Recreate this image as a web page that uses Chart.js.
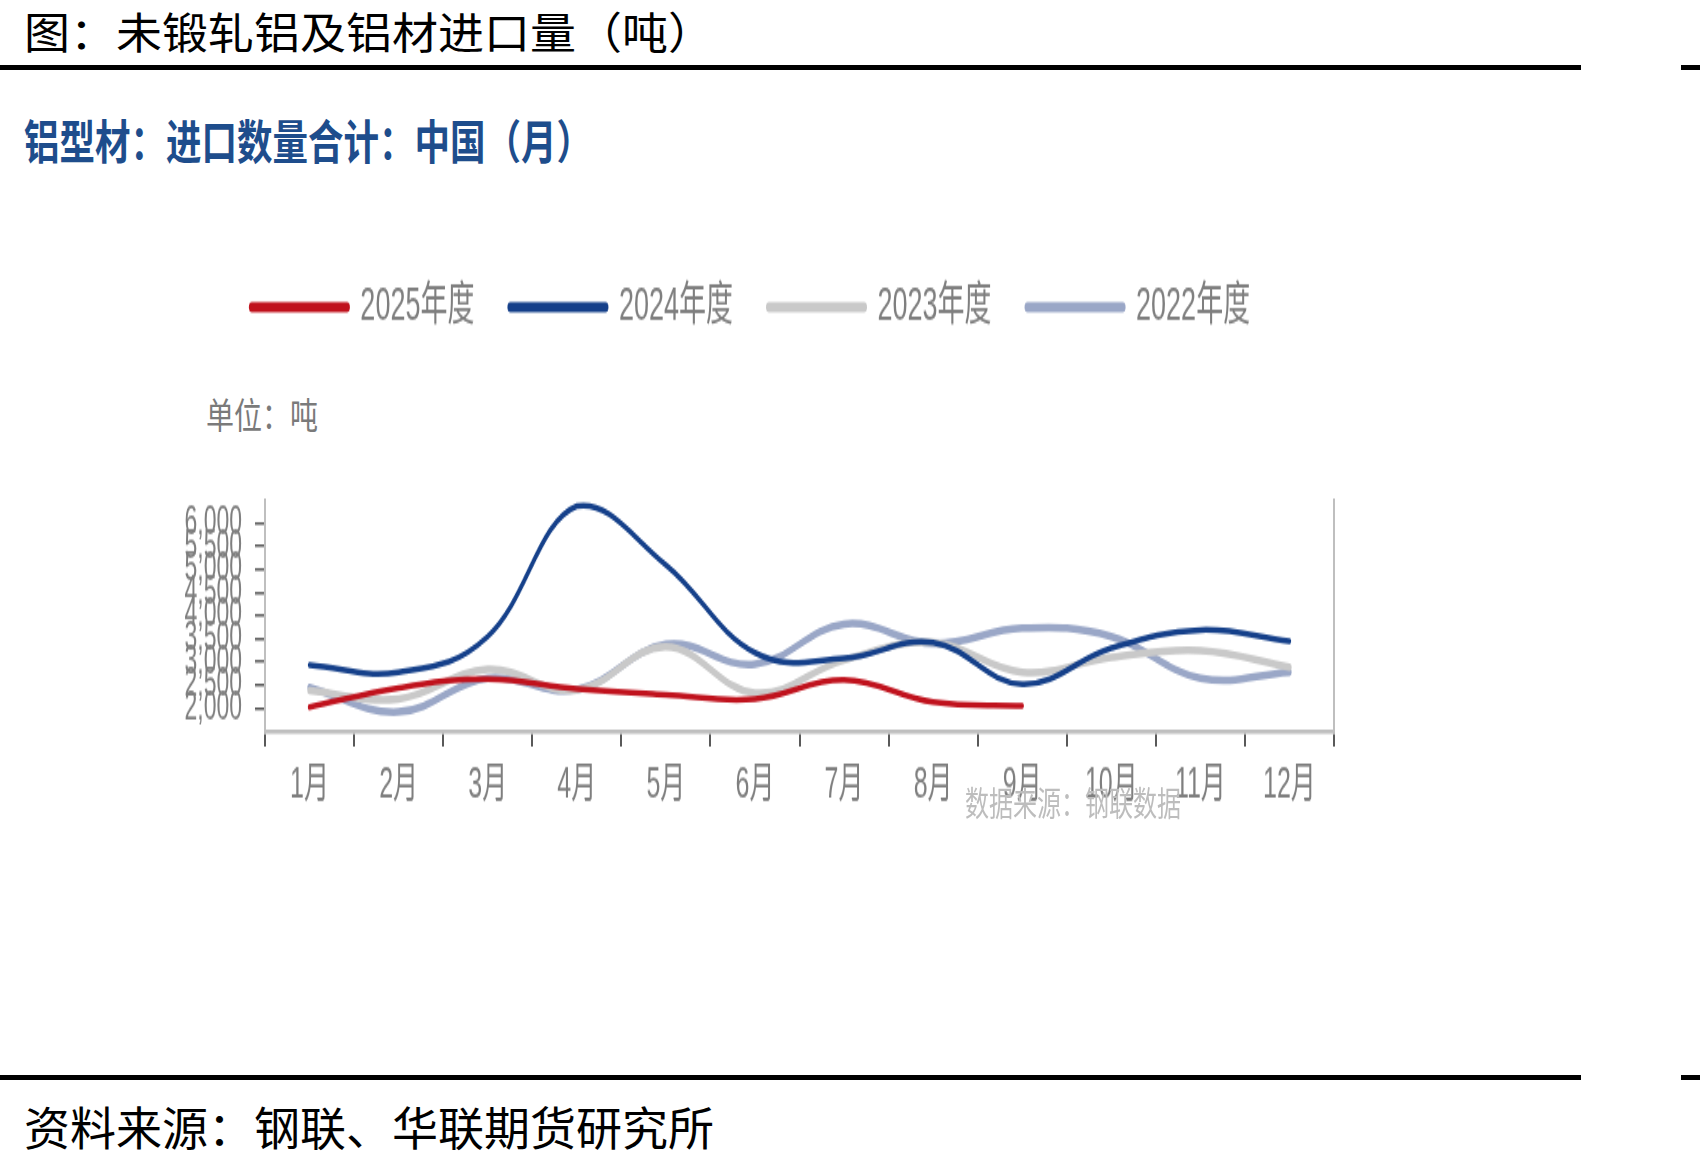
<!DOCTYPE html>
<html lang="zh-CN">
<head>
<meta charset="UTF-8">
<title>未锻轧铝及铝材进口量（吨）</title>
<script src="https://cdn.jsdelivr.net/npm/chart.js@4.4.1/dist/chart.umd.min.js"></script>
<style>
    html, body { margin: 0; padding: 0; background: #fff; }
    body {
        position: relative;
        width: 1700px;
        height: 1162px;
        overflow: hidden;
        font-family: 'Noto Sans CJK SC', sans-serif;
    }
    .txt { position: absolute; white-space: nowrap; line-height: 1; }
    .rule { position: absolute; height: 5px; background: #000; }
    #title {
        left: 24px; top: 8px; font-size: 46px; color: #000;
        transform: scaleY(0.95); transform-origin: 0 0;
    }
    #subtitle {
        left: 24px; top: 116px; font-size: 35.5px; font-weight: bold; color: #1e4d8c;
        transform: scaleY(1.3); transform-origin: 0 0;
    }
    #unit {
        left: 206px; top: 395px; font-size: 28px; color: #7a7a7a;
        transform: scaleY(1.3); transform-origin: 0 0;
    }
    #chartBox {
        position: absolute; left: 0; top: 223px;
        transform: scaleY(1.7); transform-origin: 0 0;
    }
    #watermark {
        left: 965px; top: 785px; font-size: 24px; color: #bdbdbd;
        transform: scaleY(1.4); transform-origin: 0 0;
    }
    #footer { left: 24px; top: 1102px; font-size: 46px; color: #000; }
</style>
</head>
<body>
    <div class="txt" id="title">图：未锻轧铝及铝材进口量（吨）</div>
    <div class="rule" style="left:0; top:65px; width:1581px;"></div>
    <div class="rule" style="left:1681px; top:65px; width:19px;"></div>

    <div class="txt" id="subtitle">铝型材：进口数量合计：中国（月）</div>
    <div class="txt" id="unit">单位：吨</div>

    <div id="chartBox">
        <canvas id="importChart" width="1502" height="355"></canvas>
    </div>
    <div class="txt" id="watermark">数据来源：钢联数据</div>

    <div class="rule" style="left:0; top:1075px; width:1581px;"></div>
    <div class="rule" style="left:1681px; top:1075px; width:19px;"></div>
    <div class="txt" id="footer">资料来源：钢联、华联期货研究所</div>

<script>
// 数据（吨）
const months = ['1月', '2月', '3月', '4月', '5月', '6月', '7月', '8月', '9月', '10月', '11月', '12月'];
const imports2025 = [2020, 2440, 2630, 2420, 2290, 2200, 2610, 2130, 2050, null, null, null];
const imports2024 = [2930, 2780, 3550, 6370, 5100, 3200, 3080, 3420, 2520, 3300, 3690, 3450];
const imports2023 = [2380, 2200, 2840, 2390, 3330, 2330, 3040, 3420, 2780, 3100, 3250, 2890];
const imports2022 = [2450, 1920, 2650, 2400, 3380, 2950, 3820, 3400, 3730, 3550, 2650, 2780];
const yTicks = [2000, 2500, 3000, 3500, 4000, 4500, 5000, 5500, 6000];

const FONT = "'Liberation Sans', 'Noto Sans CJK SC', sans-serif";
const TEXT_GRAY = '#7f7f7f';

function makeSeries(label, data, color, width) {
    return {
        label,
        data,
        borderColor: color,
        backgroundColor: color,
        borderWidth: width,
        borderCapStyle: 'round',
        pointRadius: 0,
        pointHoverRadius: 0,
        tension: 0.4,
        fill: false
    };
}

// 图例与绘图区之间留出空白
const legendSpacer = {
    id: 'legendSpacer',
    beforeInit(chart) {
        const fit = chart.legend.fit;
        chart.legend.fit = function () {
            fit.call(this);
            this.height += 90;
        };
    }
};

const ctx = document.getElementById('importChart').getContext('2d');

new Chart(ctx, {
    type: 'line',
    data: {
        labels: months,
        datasets: [
            makeSeries('2025年度', imports2025, '#c0121d', 3.5),
            makeSeries('2024年度', imports2024, '#15408a', 3.5),
            makeSeries('2023年度', imports2023, '#c9c9c9', 4.5),
            makeSeries('2022年度', imports2022, '#9aa7c7', 4.5)
        ]
    },
    options: {
        responsive: false,
        maintainAspectRatio: false,
        devicePixelRatio: 1,
        animation: false,
        layout: { padding: 0 },
        plugins: {
            tooltip: { enabled: false },
            legend: {
                position: 'top',
                align: 'center',
                labels: {
                    usePointStyle: true,
                    pointStyle: 'line',
                    pointStyleWidth: 95,
                    padding: 36,
                    color: TEXT_GRAY,
                    font: { size: 27, family: FONT },
                    generateLabels(chart) {
                        const items = Chart.defaults.plugins.legend.labels.generateLabels(chart);
                        items.forEach(item => {
                            item.lineWidth = 6;
                            item.lineCap = 'round';
                            item.fontColor = TEXT_GRAY;
                        });
                        return items;
                    }
                }
            }
        },
        scales: {
            x: {
                offset: true,
                grid: {
                    offset: true,
                    drawOnChartArea: false,
                    drawTicks: true,
                    tickLength: 9,
                    color: '#595959',
                    lineWidth: 2
                },
                border: { color: '#bfbfbf', width: 2.5 },
                ticks: {
                    color: TEXT_GRAY,
                    font: { size: 25, family: FONT },
                    padding: 8,
                    autoSkip: false,
                    maxRotation: 0
                },
                afterFit(scale) { scale.height = 56; }
            },
            y: {
                min: 1500,
                max: 6500,
                afterBuildTicks(scale) {
                    scale.ticks = yTicks.map(v => ({ value: v }));
                },
                grid: {
                    drawOnChartArea: false,
                    drawTicks: true,
                    tickLength: 10,
                    color: '#595959',
                    lineWidth: 1.5
                },
                border: { color: '#bfbfbf', width: 2 },
                ticks: {
                    color: TEXT_GRAY,
                    font: { size: 23, family: FONT },
                    padding: 13,
                    autoSkip: false,
                    callback: v => v.toLocaleString('en-US')
                },
                afterFit(scale) { scale.width = 265; }
            },
            y2: {
                position: 'right',
                min: 1500,
                max: 6500,
                grid: { display: false },
                ticks: { display: false },
                border: { color: '#bfbfbf', width: 2 },
                afterFit(scale) { scale.width = 168; }
            }
        }
    },
    plugins: [legendSpacer]
});
</script>
</body>
</html>
